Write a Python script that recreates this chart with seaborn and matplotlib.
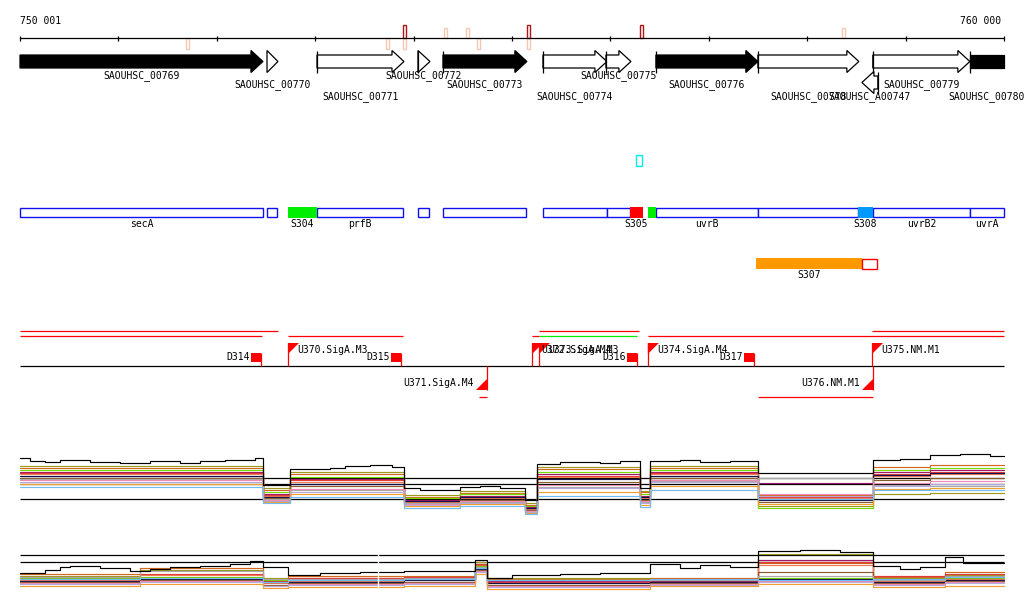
import numpy as np
import pandas as pd
import matplotlib
matplotlib.use("Agg")
import matplotlib.pyplot as plt
import seaborn as sns
from matplotlib.patches import Polygon, Rectangle

sns.set_theme(style="white")
plt.rcParams['font.family'] = ['DejaVu Sans Mono', 'DejaVu Sans']
plt.rcParams['text.color'] = 'black'

# ---------------- data ----------------
VIEW_START, VIEW_END = 750001, 760000
ruler_labels = ["750 001", "760 000"]
tick_pos = [750001, 751000, 752000, 753000, 754000, 755000,
            756000, 757000, 758000, 759000, 760000]

# marks on the ruler
mark_pos = [751708, 753740, 753913, 753913, 754320, 754553, 754665, 755173, 755173, 756321, 758364]
mark_kind = ["weak", "weak", "strong", "weak", "weak", "weak", "weak", "strong", "weak", "strong", "weak"]
mark_side = ["down", "down", "up", "down", "up", "up", "down", "up", "down", "up", "up"]

# genes
gene_names = ["SAOUHSC_00769", "SAOUHSC_00770", "SAOUHSC_00771", "SAOUHSC_00772",
              "SAOUHSC_00773", "SAOUHSC_00774", "SAOUHSC_00775", "SAOUHSC_00776",
              "SAOUHSC_00778", "SAOUHSC_A00747", "SAOUHSC_00779", "SAOUHSC_00780"]
gene_start = [749300, 752511, 753019, 754045, 754299, 755315, 755955, 756463,
              757499, 758556, 758667, 759653]
gene_end = [752470, 752622, 753903, 754167, 755152, 755965, 756209, 757499,
            758525, 758718, 759653, 760600]
gene_strand = ["+", "+", "+", "+", "+", "+", "+", "+", "+", "-", "+", "+"]
gene_filled = [True, False, False, False, True, False, False, True, False, False, False, True]
gene_row = [0, 1, 2, 0, 1, 2, 0, 1, 2, 2, 1, 2]

# annotation features
feat_start = [750001, 752511, 752724, 753019, 754045, 754299, 755315, 755965, 756199,
              756381, 756463, 757499, 758515, 758667, 759653]
feat_end = [752470, 752612, 753019, 753893, 754157, 755142, 755965, 756199, 756331,
            756463, 757499, 758515, 758667, 759653, 760000]
feat_label = ["secA", "", "S304", "prfB", "", "", "", "", "S305",
              "", "uvrB", "", "S308", "uvrB2", "uvrA"]
feat_kind = ["cds", "cds", "green", "cds", "cds", "cds", "cds", "cds", "red",
             "green", "cds", "cds", "blue", "cds", "cds"]

cyan_box = (756260, 756321)
s307_span = (757479, 758556)
s307_tail = (758556, 758708)
s307_label = "S307"

# transcripts
tx_start = [750001, 755275, 758659, 750001, 752724, 755204, 756381, 755275, 754665, 757499]
tx_end = [752622, 756290, 760000, 752460, 753893, 755275, 760000, 756270, 754746, 758667]
tx_level = [0, 0, 0, 1, 1, 1, 1, 1, 2, 2]
tx_color = ["red", "red", "red", "red", "red", "red", "red", "lime", "red", "red"]

# terminators
term_names = ["D314", "D315", "D316", "D317"]
term_pos = [752450, 753872, 756270, 757459]

# promoters
prom_names = ["U370.SigA.M3", "U371.SigA.M4", "U372.SigA.M4", "U373.SigA.M3",
              "U374.SigA.M4", "U375.NM.M1", "U376.NM.M1"]
prom_pos = [752724, 754746, 755204, 755275, 756381, 758659, 758669]
prom_strand = ["+", "-", "+", "+", "+", "+", "-"]

# expression panel 1 (segment boundaries and per-condition levels)
p1_bounds = [750001, 752470, 752744, 753903, 754472, 755133, 755255,
             756301, 756402, 757499, 758669, 759248, 760000]
p1_olive = [12.6, 8.2, 11.4, 6.8, 7.6, 5.2, 12.4, 7.6, 12.6, 4.6, 7.0, 7.2]
p1_chocolate = [12.2, 7.8, 11.0, 6.4, 7.2, 4.8, 12.0, 7.4, 12.2, 6.8, 12.4, 12.8]
p1_green = [11.8, 7.4, 10.4, 6.2, 7.0, 4.6, 11.4, 7.0, 11.8, 4.2, 11.8, 12.2]
p1_magenta = [11.4, 7.0, 10.0, 5.8, 6.6, 4.4, 11.0, 6.6, 11.4, 9.2, 11.4, 11.8]
p1_red = [11.2, 6.8, 9.8, 5.6, 6.4, 4.2, 10.6, 6.4, 11.2, 6.4, 11.0, 11.4]
p1_salmon = [11.0, 6.6, 9.4, 5.4, 6.2, 4.0, 10.4, 6.2, 11.0, 6.2, 10.6, 11.0]
p1_navy = [10.6, 6.4, 9.0, 5.6, 6.4, 4.2, 10.0, 6.4, 10.6, 5.8, 10.8, 11.2]
p1_brown = [10.2, 6.2, 8.6, 5.2, 5.8, 3.8, 9.4, 5.8, 10.2, 5.4, 9.8, 10.2]
p1_grey = [10.0, 6.0, 7.8, 5.2, 5.4, 3.6, 8.4, 5.4, 9.6, 10.2, 8.8, 8.6]
p1_pink = [9.8, 5.8, 8.0, 5.0, 5.6, 3.6, 8.8, 5.6, 9.8, 7.0, 9.2, 9.6]
p1_lavender = [9.4, 5.6, 7.4, 4.8, 5.2, 3.4, 8.2, 5.2, 9.4, 6.6, 8.6, 9.0]
p1_orange = [9.0, 5.4, 7.0, 4.6, 5.0, 3.2, 7.4, 4.8, 8.6, 5.0, 8.0, 8.2]
p1_lightblue = [8.4, 5.2, 6.4, 4.2, 4.6, 3.0, 6.6, 4.4, 7.8, 6.0, 7.8, 7.8]
# the maximum (black) profile is read at a finer resolution
p1_black_bounds = [750001, 750103, 750255, 750407, 750712, 751017, 751322, 751627,
                   751830, 752084, 752389, 752470, 752744, 753150, 753303, 753557,
                   753781, 753903, 754065, 754472, 754675, 754878, 755133, 755255,
                   755489, 755895, 756098, 756301, 756402, 756707, 756910, 757215,
                   757499, 758669, 758943, 759248, 759553, 759858, 760000]
p1_black = [14.2, 13.6, 13.4, 13.8, 13.4, 13.2, 13.6, 13.2, 13.6, 13.8,
            14.2, 8.8, 12.0, 12.2, 12.6, 12.8, 12.4, 8.2, 7.8, 8.4,
            8.6, 8.2, 5.8, 13.0, 13.4, 13.2, 13.6, 8.2, 13.6, 13.8,
            13.4, 13.6, 11.2, 13.8, 14.0, 14.8, 15.0, 14.6]
p1_refs = [6.0, 9.0, 10.2]

# expression panel 2
p2_bounds = [750001, 751220, 752470, 752724, 753903, 754624, 754746,
             756402, 757499, 758669, 759400, 760000]
p2_olive = [4.8, 6.0, 4.4, 4.4, 4.6, 7.6, 4.4, 4.2, 9.2, 4.4, 5.0]
p2_chocolate = [5.2, 6.4, 4.0, 4.8, 4.8, 7.0, 4.2, 4.4, 7.4, 4.6, 5.6]
p2_green = [4.4, 4.6, 4.0, 4.2, 4.4, 6.8, 4.0, 4.0, 4.4, 4.2, 4.4]
p2_magenta = [4.2, 4.4, 3.6, 4.0, 4.2, 6.6, 3.8, 3.8, 8.0, 4.0, 4.6]
p2_red = [4.6, 5.2, 3.8, 4.4, 4.6, 7.2, 3.6, 4.2, 7.6, 4.8, 5.2]
p2_salmon = [4.0, 5.0, 3.4, 3.8, 4.0, 6.4, 3.4, 3.6, 7.0, 3.8, 4.2]
p2_navy = [3.8, 4.2, 3.6, 3.6, 4.0, 6.2, 3.4, 3.6, 4.2, 3.6, 4.0]
p2_brown = [3.6, 4.0, 3.0, 3.4, 3.6, 6.0, 3.0, 3.4, 5.6, 3.4, 3.8]
p2_grey = [4.6, 5.8, 4.2, 4.2, 4.4, 6.6, 4.0, 4.0, 4.8, 4.0, 4.8]
p2_pink = [3.4, 3.8, 2.8, 3.2, 3.4, 5.8, 2.8, 3.2, 3.8, 3.2, 3.6]
p2_lavender = [3.2, 3.6, 2.8, 3.0, 3.2, 5.6, 2.6, 3.0, 3.6, 3.0, 3.4]
p2_orange = [2.8, 3.2, 2.4, 2.6, 2.8, 5.2, 2.2, 2.8, 3.2, 2.6, 2.8]
p2_lightblue = [4.2, 4.4, 3.6, 4.0, 4.2, 6.4, 4.0, 4.2, 4.0, 4.2, 4.6]
p2_black_bounds = [750001, 750255, 750407, 750509, 750814, 751119, 751322, 751525,
                   751830, 752135, 752338, 752470, 752724, 753049, 753455, 753903,
                   754624, 754746, 755000, 755489, 755895, 756402, 756707, 756910,
                   757215, 757499, 757926, 758332, 758669, 758943, 759146, 759400,
                   759583, 760000]
p2_black = [5.4, 6.0, 6.6, 6.8, 6.4, 5.8, 6.2, 6.6, 6.8, 7.2,
            7.8, 6.6, 5.0, 5.4, 5.6, 5.8, 8.0, 4.4, 5.0, 5.2,
            5.4, 7.2, 6.4, 7.0, 6.6, 9.8, 10.0, 9.6, 6.8, 6.2,
            6.6, 8.6, 7.4]
p2_refs = [7.6, 9.0]
p2_seam = 753639

series_colors = {
    "olive": "#9c9a1c", "chocolate": "#d2691e", "green": "#74dc00",
    "magenta": "#a01868", "red": "#e03a3a", "salmon": "#f07a52",
    "navy": "#12124c", "brown": "#8b5a2b", "grey": "#a8a8a8",
    "pink": "#f08cb4", "lavender": "#b4a8dc", "orange": "#f0a030",
    "lightblue": "#70bcf0", "black": "#000000",
}

# ---------------- layout ----------------
W, H, DPI = 1024, 611, 100
BPPX = (VIEW_END - VIEW_START) / 984.0
XL = VIEW_START - 20 * BPPX
XR = VIEW_END + 20 * BPPX
FS = 7
LW = 0.9


def px(n):
    return n * BPPX


fig = plt.figure(figsize=(W / DPI, H / DPI), dpi=DPI)
fig.patch.set_facecolor("white")
ax = fig.add_axes([0, 0, 1, 1])
ax.set_xlim(XL, XR)
ax.set_ylim(H, 0)
ax.axis("off")

# ruler
RULER_Y = 38
ax.hlines(RULER_Y, VIEW_START, VIEW_END, color="black", lw=LW)
ax.vlines(tick_pos, RULER_Y - 2.5, RULER_Y + 2.5, color="black", lw=LW)
ax.text(VIEW_START, 20.5, ruler_labels[0], ha="left", va="center", fontsize=FS)
ax.text(VIEW_END - px(3), 20.5, ruler_labels[1], ha="right", va="center", fontsize=FS)

for p, k, s in zip(mark_pos, mark_kind, mark_side):
    col = "#b01414" if k == "strong" else "#f5c8b2"
    if s == "up":
        h = 13 if k == "strong" else 10
        y0 = RULER_Y - h
    else:
        h = 10.5
        y0 = RULER_Y
    ax.add_patch(Rectangle((p - px(1.5), y0), px(3), h, fill=False,
                           edgecolor=col, lw=1.0))

# genes
GENE_Y = {"+": 61.5, "-": 82.5}
BODY_H, HEAD_H, HEAD_LEN = 13, 22, px(12)
LABEL_ROWS = [76, 85, 97]
for name, s, e, st, fl, row in zip(gene_names, gene_start, gene_end, gene_strand,
                                   gene_filled, gene_row):
    yc = GENE_Y[st]
    sv, ev = max(s, VIEW_START), min(e, VIEW_END)
    bt, bb = yc - BODY_H / 2, yc + BODY_H / 2
    ht, hb = yc - HEAD_H / 2, yc + HEAD_H / 2
    fc = "black" if fl else "white"
    if st == "+":
        if e <= VIEW_END:
            hs = max(e - HEAD_LEN, sv)
            pts = [(sv, bt), (hs, bt), (hs, ht), (e, yc), (hs, hb), (hs, bb), (sv, bb)]
            if hs == sv:
                pts = [(sv, ht), (e, yc), (sv, hb)]
        else:
            pts = [(sv, bt), (ev, bt), (ev, bb), (sv, bb)]
        ax.add_patch(Polygon(pts, closed=True, facecolor=fc, edgecolor="black", lw=LW))
        if s >= VIEW_START and (e - s) > HEAD_LEN:
            ax.vlines(s, ht, hb, color="black", lw=LW)
    else:
        hs = min(s + HEAD_LEN, ev)
        pts = [(ev, bt), (hs, bt), (hs, ht), (s, yc), (hs, hb), (hs, bb), (ev, bb)]
        ax.add_patch(Polygon(pts, closed=True, facecolor=fc, edgecolor="black", lw=LW))
        ax.vlines(e, ht, hb, color="black", lw=LW)
    ax.text((sv + ev) / 2, LABEL_ROWS[row], name, ha="center", va="center", fontsize=FS)

# annotation features
FEAT_Y0, FEAT_H, FEAT_LABEL_Y = 207.5, 9.5, 224
kind_fill = {"cds": "white", "green": "#00ee00", "red": "#ff0000", "blue": "#0099ff"}
for s, e, lab, k in zip(feat_start, feat_end, feat_label, feat_kind):
    if k == "cds":
        ax.add_patch(Rectangle((s, FEAT_Y0), e - s, FEAT_H, facecolor="white",
                               edgecolor="#1010f0", lw=1.0))
    else:
        ax.add_patch(Rectangle((s, FEAT_Y0 - 0.5), e - s, FEAT_H + 1,
                               facecolor=kind_fill[k], edgecolor="none", zorder=3))
    if lab:
        ax.text((s + e) / 2, FEAT_LABEL_Y, lab, ha="center", va="center", fontsize=FS)

ax.add_patch(Rectangle((cyan_box[0], 155), cyan_box[1] - cyan_box[0], 11,
                       facecolor="white", edgecolor="#00f0f0", lw=1.0))
ax.add_patch(Rectangle((s307_span[0], 258), s307_span[1] - s307_span[0], 11,
                       facecolor="#ff9900", edgecolor="none"))
ax.add_patch(Rectangle((s307_tail[0], 258.5), s307_tail[1] - s307_tail[0], 10,
                       facecolor="white", edgecolor="#ff0000", lw=1.0))
ax.text(sum(s307_span) / 2, 275, s307_label, ha="center", va="center", fontsize=FS)

# transcripts / regulatory elements
BASE_Y = 366
TX_Y = [331, 336, 397]
ax.hlines(BASE_Y, VIEW_START, VIEW_END, color="black", lw=LW)
for s, e, lv, c in zip(tx_start, tx_end, tx_level, tx_color):
    ax.hlines(TX_Y[lv], s, e, color=("#00ee00" if c == "lime" else "#ff0000"), lw=LW)

for name, p in zip(term_names, term_pos):
    ax.add_patch(Rectangle((p - px(10), 353), px(10), 9, facecolor="#ff0000",
                           edgecolor="none"))
    ax.vlines(p, 353, BASE_Y, color="#ff0000", lw=LW)
    ax.text(p - px(11), 357.5, name, ha="right", va="center", fontsize=FS)

for name, p, st in zip(prom_names, prom_pos, prom_strand):
    if st == "+":
        ax.vlines(p, 343, BASE_Y, color="#ff0000", lw=LW)
        ax.add_patch(Polygon([(p, 343), (p + px(11), 343), (p, 354)], closed=True,
                             facecolor="#ff0000", edgecolor="none"))
        ax.text(p + px(9), 350, name, ha="left", va="center", fontsize=FS)
    else:
        ax.vlines(p, BASE_Y, 390, color="#ff0000", lw=LW)
        ax.add_patch(Polygon([(p, 390), (p - px(11), 390), (p, 379)], closed=True,
                             facecolor="#ff0000", edgecolor="none"))
        ax.text(p - px(13), 383, name, ha="right", va="center", fontsize=FS)


# expression panels
def long_table(series):
    rows = []
    for nm, bounds, lv in series:
        vals = list(lv) + [lv[-1]]
        for b, v in zip(bounds, vals):
            rows.append({"pos": b, "value": v, "series": nm})
    return pd.DataFrame(rows)


p1_series = [("olive", p1_bounds, p1_olive), ("chocolate", p1_bounds, p1_chocolate),
             ("green", p1_bounds, p1_green), ("magenta", p1_bounds, p1_magenta),
             ("red", p1_bounds, p1_red), ("salmon", p1_bounds, p1_salmon),
             ("navy", p1_bounds, p1_navy), ("brown", p1_bounds, p1_brown),
             ("grey", p1_bounds, p1_grey), ("pink", p1_bounds, p1_pink),
             ("lavender", p1_bounds, p1_lavender), ("orange", p1_bounds, p1_orange),
             ("lightblue", p1_bounds, p1_lightblue),
             ("black", p1_black_bounds, p1_black)]
p2_series = [("olive", p2_bounds, p2_olive), ("chocolate", p2_bounds, p2_chocolate),
             ("green", p2_bounds, p2_green), ("magenta", p2_bounds, p2_magenta),
             ("red", p2_bounds, p2_red), ("salmon", p2_bounds, p2_salmon),
             ("navy", p2_bounds, p2_navy), ("brown", p2_bounds, p2_brown),
             ("grey", p2_bounds, p2_grey), ("pink", p2_bounds, p2_pink),
             ("lavender", p2_bounds, p2_lavender), ("orange", p2_bounds, p2_orange),
             ("lightblue", p2_bounds, p2_lightblue),
             ("black", p2_black_bounds, p2_black)]

ax1 = fig.add_axes([0, (H - 520) / H, 1, 75 / H])
ax2 = fig.add_axes([0, (H - 600) / H, 1, 55 / H])
for a, ser, refs, ylim in [(ax1, p1_series, p1_refs, (1.8, 16.8)),
                           (ax2, p2_series, p2_refs, (0, 11))]:
    a.patch.set_alpha(0)
    df = long_table(ser)
    order = [n for n, _, _ in ser]
    a.hlines(refs, VIEW_START, VIEW_END, color="black", lw=LW, zorder=1)
    sns.lineplot(data=df, x="pos", y="value", hue="series", hue_order=order,
                 palette=series_colors, estimator=None, errorbar=None,
                 drawstyle="steps-post", linewidth=0.85, legend=False, ax=a)
    a.set_xlim(XL, XR)
    a.set_ylim(*ylim)
    a.axis("off")

ax2.axvline(p2_seam, color="white", lw=1.0, zorder=5)

fig.savefig("out.png", dpi=DPI, facecolor="white")
